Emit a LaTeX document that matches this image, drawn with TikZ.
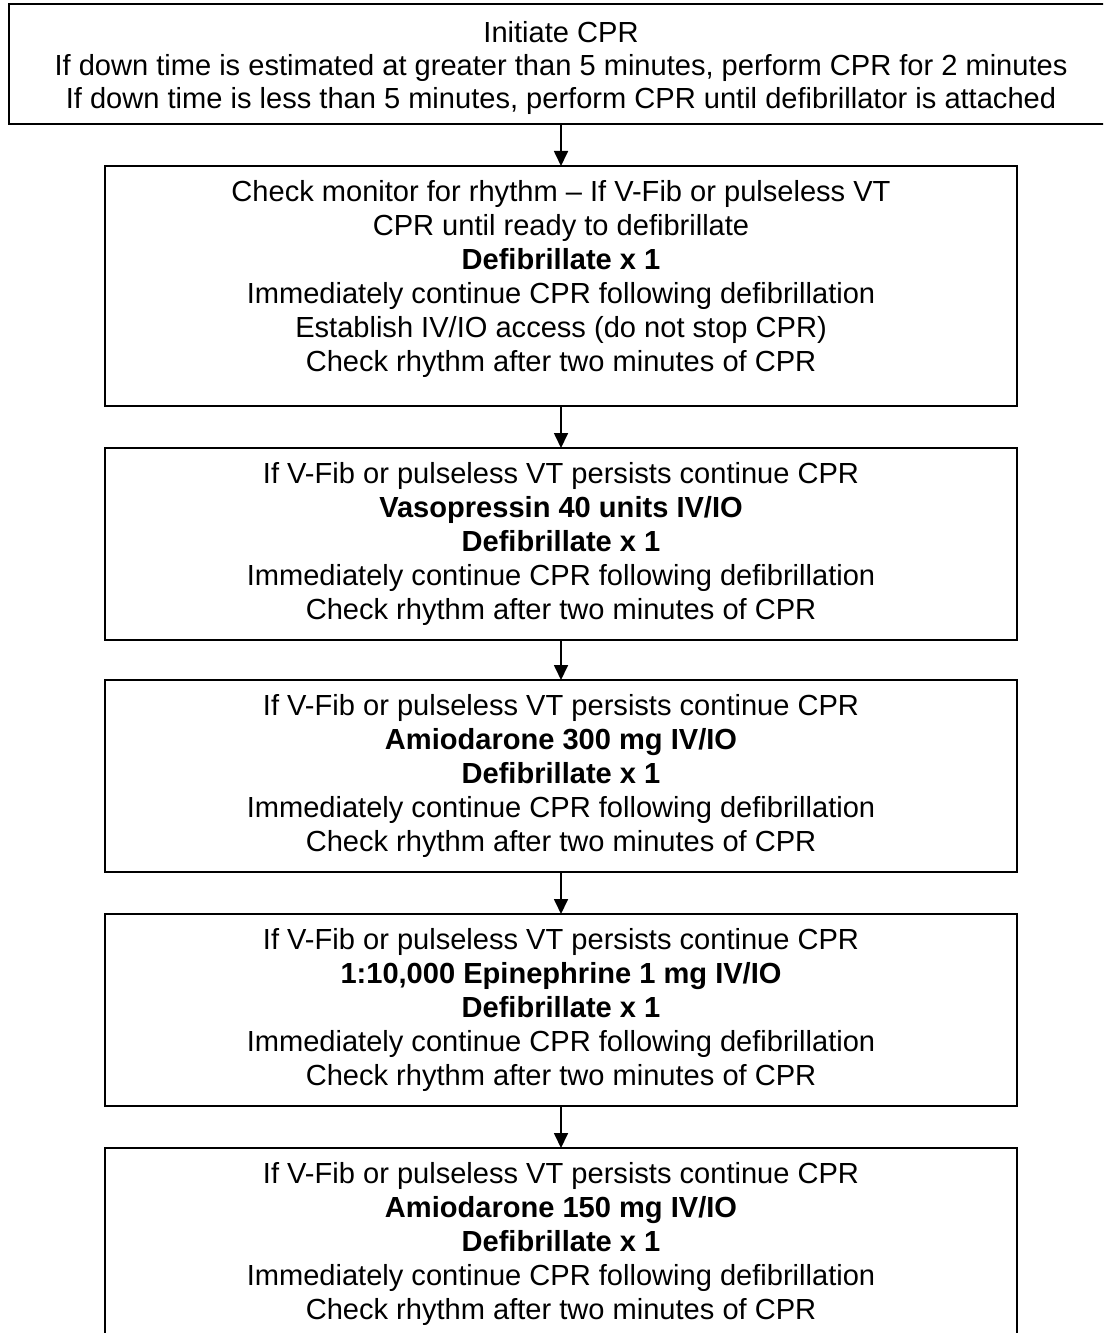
\documentclass[tikz,border=0pt]{standalone}
\usepackage{fontspec}
\setmainfont{Liberation Sans}
\usetikzlibrary{arrows.meta}
% #1 height, #2 width, #3 first-line height, #4 baselineskip, #5 text
\newcommand{\fbtext}[5]{\parbox[c][#1][t]{#2}{\centering\fontsize{21.8pt}{#4}\selectfont\rule{0pt}{#3}#5\par}}
\tikzset{
  flowbox/.style={draw, line width=1.65pt, inner sep=0pt, outer sep=0pt, align=center},
  flowarrow/.style={line width=1.3pt, -{Triangle[length=11.25pt,width=10.5pt]}}
}
\begin{document}
\begin{tikzpicture}[x=0.75pt,y=-0.75pt]
\clip (0,0) rectangle (1103,1333);
\fill[white] (0,0) rectangle (1103,1333);
\node[flowbox] (b1) at (561,64) {\fbtext{90pt}{828pt}{29.25pt}{24.75pt}{Initiate CPR\\
If down time is estimated at greater than 5 minutes, perform CPR for 2 minutes\\
If down time is less than 5 minutes, perform CPR until defibrillator is attached}};
\node[flowbox] (b2) at (561,286) {\fbtext{180pt}{684pt}{26.8pt}{25.5pt}{Check monitor for rhythm -- If V-Fib or pulseless VT\\
CPR until ready to defibrillate\\
\textbf{Defibrillate x 1}\\
Immediately continue CPR following defibrillation\\
Establish IV/IO access (do not stop CPR)\\
Check rhythm after two minutes of CPR}};
\node[flowbox] (b3) at (561,544) {\fbtext{144pt}{684pt}{26.25pt}{25.5pt}{If V-Fib or pulseless VT persists continue CPR\\
\textbf{Vasopressin 40 units IV/IO}\\
\textbf{Defibrillate x 1}\\
Immediately continue CPR following defibrillation\\
Check rhythm after two minutes of CPR}};
\node[flowbox] (b4) at (561,776) {\fbtext{144pt}{684pt}{26.25pt}{25.5pt}{If V-Fib or pulseless VT persists continue CPR\\
\textbf{Amiodarone 300 mg IV/IO}\\
\textbf{Defibrillate x 1}\\
Immediately continue CPR following defibrillation\\
Check rhythm after two minutes of CPR}};
\node[flowbox] (b5) at (561,1010) {\fbtext{144pt}{684pt}{26.25pt}{25.5pt}{If V-Fib or pulseless VT persists continue CPR\\
\textbf{1:10,000 Epinephrine 1 mg IV/IO}\\
\textbf{Defibrillate x 1}\\
Immediately continue CPR following defibrillation\\
Check rhythm after two minutes of CPR}};
\node[flowbox] (b6) at (561,1244) {\fbtext{144pt}{684pt}{26.25pt}{25.5pt}{If V-Fib or pulseless VT persists continue CPR\\
\textbf{Amiodarone 150 mg IV/IO}\\
\textbf{Defibrillate x 1}\\
Immediately continue CPR following defibrillation\\
Check rhythm after two minutes of CPR}};
\draw[flowarrow] (b1.south) -- (b2.north);
\draw[flowarrow] (b2.south) -- (b3.north);
\draw[flowarrow] (b3.south) -- (b4.north);
\draw[flowarrow] (b4.south) -- (b5.north);
\draw[flowarrow] (b5.south) -- (b6.north);
\end{tikzpicture}
\end{document}
